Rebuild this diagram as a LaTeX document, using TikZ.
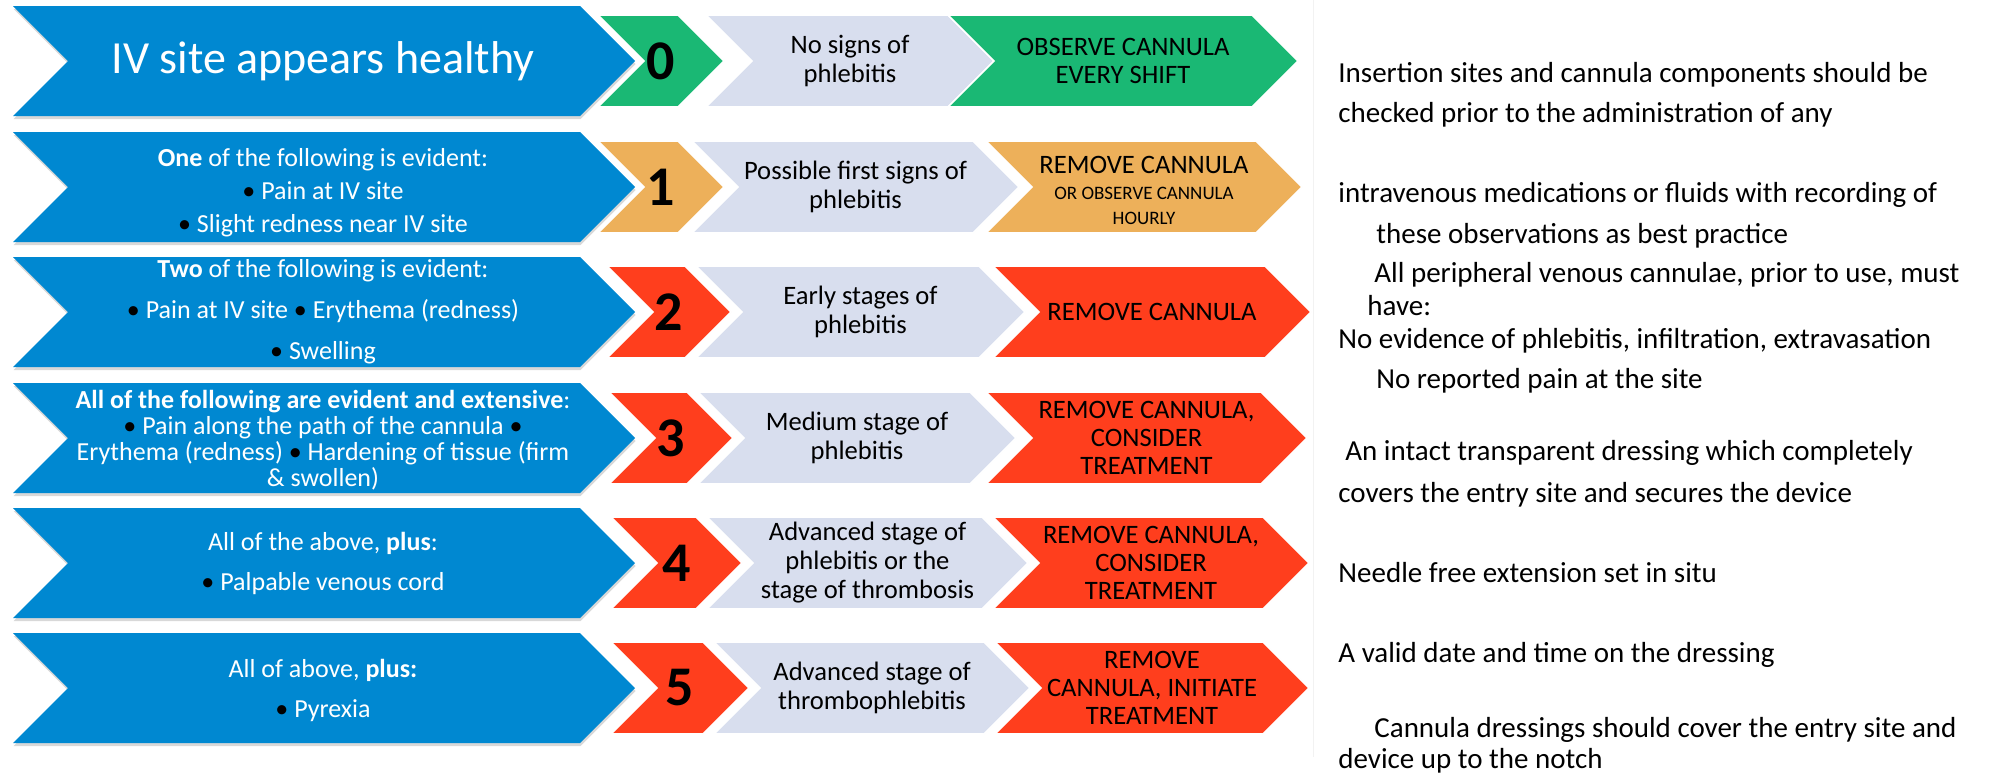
\documentclass[tikz,border=0pt]{standalone}
\usepackage{fontspec}
\setmainfont{Carlito}
\usetikzlibrary{shadows}

\definecolor{sitebl}{HTML}{0088D1}
\definecolor{okgreen}{HTML}{1AB874}
\definecolor{watchor}{HTML}{EDB05A}
\definecolor{alertrd}{HTML}{FF3E1D}
\definecolor{stagegr}{HTML}{D8DEEE}

% chevron: style, left x, top-right x, centre y, half height
\newcommand{\chevshape}[5]{%
  \fill[#1] (#2,#4-#5) -- (#3,#4-#5) -- (#3+#5,#4) -- (#3,#4+#5) -- (#2,#4+#5) -- (#2+#5,#4) -- cycle;}
\newcommand{\bul}{{\color{black}•}}
\newcommand{\smalltxt}{\fontsize{9.5}{11}\selectfont}

\tikzset{
  chevline/.style={draw=white, line width=0.8pt},
  signtext/.style={text=white, align=center, font=\fontsize{13}{16.5}\selectfont},
  numtext/.style={font=\fontsize{28}{30}\selectfont\bfseries},
  stagetext/.style={align=center, font=\fontsize{13.3}{14.5}\selectfont},
  acttext/.style={align=center, font=\fontsize{13.3}{14}\selectfont},
  notetext/.style={anchor=west, inner sep=0pt, text height=1.5ex, text depth=.25ex,
    font=\fontsize{14.5}{17}\selectfont},
}

\begin{document}
\begin{tikzpicture}[x=0.5pt,y=-0.5pt]

\fill[white] (0,0) rectangle (1991,777);
\useasboundingbox (0,0) rectangle (1991,777);

\draw[black!5] (1313,0) -- (1313,757);

% one row per grade
\foreach \r/\cy/\col/\nL/\nR/\gL/\gR/\aL/\aR in {
  0/61/okgreen/598/678/706/948/948/1252,
  1/187/watchor/598/678/692/973/986/1256,
  2/312/alertrd/607/685/696/979/993/1265,
  3/438/alertrd/609/687/698/970/986/1261,
  4/563/alertrd/611/696/707/982/993/1263,
  5/688/alertrd/611/703/714/984/995/1263}
{
  \chevshape{sitebl, drop shadow={shadow xshift=0.3pt, shadow yshift=-1.5pt, opacity=.3}}{13}{580}{\cy}{55}
  \chevshape{\col, chevline}{\nL}{\nR}{\cy}{46}
  \chevshape{stagegr, chevline}{\gL}{\gR}{\cy}{46}
  \chevshape{\col, chevline}{\aL}{\aR}{\cy}{46}
  \coordinate (s\r) at (323,\cy);
  \coordinate (g\r) at ({(\gL+\gR+46)/2},\cy);
  \coordinate (a\r) at ({(\aL+\aR+46)/2},\cy);
  \node[numtext] (num\r) at ({(\nL+\nR+46)/2},\cy) {\r};
}

% signs
\node[signtext, font=\fontsize{23}{26}\selectfont] (sign0) at (s0) {IV site appears healthy};
\node[signtext, yshift=-3pt] (sign1) at (s1) {\textbf{One} of the following is evident:\\ \bul{} Pain at IV site\\ \bul{} Slight redness near IV site};
\node[signtext, font=\fontsize{13}{20.5}\selectfont] (sign2) at (s2) {\textbf{Two} of the following is evident:\\ \bul{} Pain at IV site \bul{} Erythema (redness)\\ \bul{} Swelling};
\node[signtext, font=\fontsize{13}{13}\selectfont, yshift=-1pt] (sign3) at (s3) {\textbf{All of the following are evident and extensive}:\\ \bul{} Pain along the path of the cannula \bul\\ Erythema (redness) \bul{} Hardening of tissue (firm\\ \& swollen)};
\node[signtext, font=\fontsize{13}{20}\selectfont] (sign4) at (s4) {All of the above, \textbf{plus}:\\ \bul{} Palpable venous cord};
\node[signtext, font=\fontsize{13}{20}\selectfont, yshift=-1pt] (sign5) at (s5) {All of above, \textbf{plus:}\\ \bul{} Pyrexia};

% stages
\node[stagetext] (stage0) at (g0) {No signs of\\phlebitis};
\node[stagetext] (stage1) at (g1) {Possible first signs of\\phlebitis};
\node[stagetext] (stage2) at (g2) {Early stages of\\phlebitis};
\node[stagetext] (stage3) at (g3) {Medium stage of\\phlebitis};
\node[stagetext] (stage4) at (g4) {Advanced stage of\\phlebitis or the\\stage of thrombosis};
\node[stagetext] (stage5) at (g5) {Advanced stage of\\thrombophlebitis};

% actions
\node[acttext] (act0) at (a0) {OBSERVE CANNULA\\EVERY SHIFT};
\node[acttext, yshift=-1.5pt] (act1) at (a1) {REMOVE CANNULA\\[-1pt] \smalltxt OR OBSERVE CANNULA\\[-1.5pt] \smalltxt HOURLY};
\node[acttext] (act2) at (a2) {REMOVE CANNULA};
\node[acttext] (act3) at (a3) {REMOVE CANNULA,\\CONSIDER\\TREATMENT};
\node[acttext] (act4) at (a4) {REMOVE CANNULA,\\CONSIDER\\TREATMENT};
\node[acttext] (act5) at (a5) {REMOVE\\CANNULA, INITIATE\\TREATMENT};

% notes on the right
\node[notetext] (note1) at (1338,77) {Insertion sites and cannula components should be};
\node[notetext] (note2) at (1338,117) {checked prior to the administration of any};
\node[notetext] (note3) at (1338,197) {intravenous medications or fluids with recording of};
\node[notetext] (note4) at (1376,238) {these observations as best practice};
\node[notetext] (note5) at (1374,277) {All peripheral venous cannulae, prior to use, must};
\node[notetext] (note6) at (1367,310) {have:};
\node[notetext] (note7) at (1338,343) {No evidence of phlebitis, infiltration, extravasation};
\node[notetext] (note8) at (1376,383) {No reported pain at the site};
\node[notetext] (note9) at (1345,455) {An intact transparent dressing which completely};
\node[notetext] (note10) at (1338,497) {covers the entry site and secures the device};
\node[notetext] (note11) at (1338,577) {Needle free extension set in situ};
\node[notetext] (note12) at (1338,657) {A valid date and time on the dressing};
\node[notetext] (note13) at (1374,732) {Cannula dressings should cover the entry site and};
\node[notetext] (note14) at (1338,763) {device up to the notch};

\end{tikzpicture}
\end{document}
